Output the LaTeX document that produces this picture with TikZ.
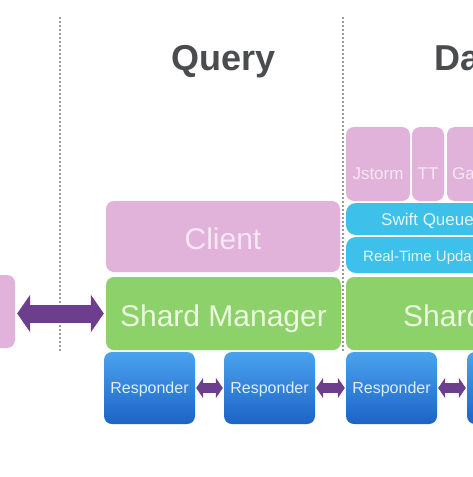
\documentclass[tikz,border=0pt]{standalone}
\usepackage{fontspec}
\setmainfont{Liberation Sans}
\usetikzlibrary{arrows.meta}
\definecolor{pinkbox}{HTML}{E2B3DA}
\definecolor{pinktxt}{HTML}{F7E6F3}
\definecolor{greenbox}{HTML}{8DD16B}
\definecolor{greentxt}{HTML}{ECFADF}
\definecolor{cyanbox}{HTML}{3DC0EA}
\definecolor{cyantxt}{HTML}{E3F7FE}
\definecolor{bluetop}{HTML}{4AA3EE}
\definecolor{bluebot}{HTML}{1D63C6}
\definecolor{bluetxt}{HTML}{DCEEFF}
\definecolor{arrowpurple}{HTML}{6E3E8E}
\definecolor{titlegray}{HTML}{4A4C50}
\definecolor{dotgray}{HTML}{9A9A9A}
\tikzset{
  box/.style={rounded corners=8pt, inner sep=0pt, draw=none},
  pinkb/.style={box, fill=pinkbox},
  greenb/.style={box, fill=greenbox},
  cyanb/.style={box, fill=cyanbox, rounded corners=10pt},
  respb/.style={box, top color=bluetop, bottom color=bluebot, minimum width=91pt, minimum height=72pt},
  lbl/.style={inner sep=0pt, anchor=base},
  title/.style={lbl, font=\bfseries\fontsize{36}{40}\selectfont, text=titlegray},
  big/.style={lbl, font=\fontsize{30}{34}\selectfont},
  mid/.style={lbl, font=\fontsize{17}{20}\selectfont},
  small/.style={lbl, font=\fontsize{16}{19}\selectfont, text=bluetxt},
  divider/.style={dotgray, line width=1.2pt, dash pattern=on 2pt off 2pt},
  bigarrow/.style={arrowpurple, line width=18pt, {Triangle[length=13pt,width=37pt]}-{Triangle[length=13pt,width=37pt]}, shorten <=2pt, shorten >=2pt},
  smallarrow/.style={arrowpurple, line width=10pt, {Triangle[length=7pt,width=20pt]}-{Triangle[length=7pt,width=20pt]}, shorten <=1pt, shorten >=1pt}
}
\begin{document}
\begin{tikzpicture}[x=1pt, y=-1pt]
\useasboundingbox (0,0) rectangle (473,477);
\clip (0,0) rectangle (473,477);
\fill[white] (0,0) rectangle (473,477);
% dividers
\coordinate (d1t) at (60,17); \coordinate (d1b) at (60,352);
\coordinate (d2t) at (343,17); \coordinate (d2b) at (343,352);
\draw[divider] (d1t) -- (d1b);
\draw[divider] (d2t) -- (d2b);
% titles
\node[title] (tq) at (223.5,70) {Query};
\node[title, anchor=base west] (td) at (434,70) {Da};
% top pink boxes
\node[pinkb, minimum width=64pt, minimum height=74pt] (js) at (378,164) {};
\node[pinkb, minimum width=32pt, minimum height=74pt] (tt) at (428,164) {};
\node[pinkb, minimum width=73pt, minimum height=74pt] (ga) at (483.5,164) {};
\node[mid, text=pinktxt] (jst) at (378,179) {Jstorm};
\node[mid, text=pinktxt] (ttt) at (428,179) {TT};
\node[mid, text=pinktxt, anchor=base west] (gat) at (452,179) {Ga};
% cyan boxes
\node[cyanb, minimum width=194pt, minimum height=32pt] (sq) at (443,219) {};
\node[cyanb, minimum width=194pt, minimum height=36pt] (rt) at (443,255) {};
\node[mid, text=cyantxt, anchor=base west] (sqt) at (381,225) {Swift Queue};
\node[lbl, font=\fontsize{15}{18}\selectfont, text=cyantxt, anchor=base west] (rtt) at (363,261) {Real-Time Upda};
% client
\node[pinkb, minimum width=234pt, minimum height=71pt] (cl) at (223,236.5) {};
\node[big, text=pinktxt] (clt) at (223,249) {Client};
% shard managers
\node[pinkb, minimum width=35pt, minimum height=73pt] (lb) at (-2.5,311.5) {};
\node[greenb, minimum width=235pt, minimum height=73pt] (sm) at (223.5,313.5) {};
\node[big, text=greentxt] (smt) at (223.5,326) {Shard Manager};
\node[greenb, minimum width=174pt, minimum height=73pt] (sr) at (433,313.5) {};
\node[big, text=greentxt, anchor=base west] (srt) at (403,326) {Shard};
% responders
\node[respb] (r1) at (149.5,388) {};
\node[respb] (r2) at (269.5,388) {};
\node[respb] (r3) at (391.5,388) {};
\node[respb] (r4) at (512.5,388) {};
\node[small] (r1t) at (149.5,393) {Responder};
\node[small] (r2t) at (269.5,393) {Responder};
\node[small] (r3t) at (391.5,393) {Responder};
% arrows
\draw[bigarrow] (lb.east |- sm.west) -- (sm.west);
\draw[smallarrow] (r1.east) -- (r2.west);
\draw[smallarrow] (r2.east) -- (r3.west);
\draw[smallarrow] (r3.east) -- (r4.west);
\end{tikzpicture}
\end{document}
